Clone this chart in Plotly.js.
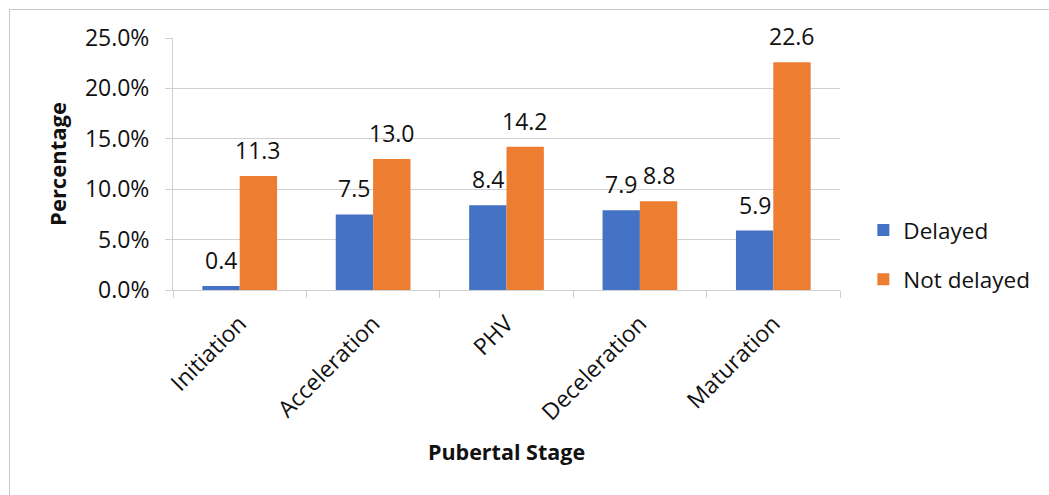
<!DOCTYPE html>
<html><head><meta charset="utf-8">
<script src="https://cdn.plot.ly/plotly-3.0.1.min.js"></script>
<style>
html,body{margin:0;padding:0;background:#fff;}
#wrap{position:relative;width:1049px;height:495px;overflow:hidden;}
#chart{width:1049px;height:495px;}
#frame{position:absolute;left:9px;top:9px;width:1100px;height:600px;border-left:1px solid #c8c8c8;border-top:1px solid #c8c8c8;pointer-events:none;}
</style></head>
<body><div id="wrap"><div id="chart"></div><div id="frame"></div></div>
<script>
const categories = ["Initiation", "Acceleration", "PHV", "Deceleration", "Maturation"];
const delayed = [0.4, 7.5, 8.4, 7.9, 5.9];
const notDelayed = [11.3, 13.0, 14.2, 8.8, 22.6];
const seriesNames = ["Delayed", "Not delayed"];
const yTickVals = [0, 5, 10, 15, 20, 25];

const FONT = "Open Sans, sans-serif";
const TXT = "#111";
const margin = {l: 173, r: 209, t: 38, b: 205};
const bargap = 0.44;
const plotW = 1049 - margin.l - margin.r;
const halfBar = (plotW / categories.length) * (1 - bargap) / 4;

const traces = [
  {type: "bar", name: seriesNames[0], x: categories, y: delayed.map(v => v / 100),
   marker: {color: "#4472C4"}, legendgroup: "a", hoverinfo: "skip"},
  {type: "bar", name: seriesNames[1], x: categories, y: notDelayed.map(v => v / 100),
   marker: {color: "#ED7D31"}, legendgroup: "b", hoverinfo: "skip"}
];

const annotations = [];
[delayed, notDelayed].forEach((arr, si) => {
  arr.forEach((v, i) => {
    annotations.push({x: categories[i], y: v / 100, xref: "x", yref: "y",
      text: v.toFixed(1), showarrow: false, yanchor: "middle",
      xshift: (si === 0 ? -1 : 1) * halfBar, yshift: 26,
      font: {family: FONT, size: 23, color: TXT}});
  });
});

const layout = {
  width: 1049, height: 495, margin: margin,
  paper_bgcolor: "#fff", plot_bgcolor: "#fff",
  barmode: "group", bargap: bargap, bargroupgap: 0,
  showlegend: true,
  legend: {x: 1.035, xanchor: "left", y: 0.139, yanchor: "middle",
    font: {family: FONT, size: 22.5, color: TXT}, traceorder: "grouped", tracegroupgap: 17,
    bgcolor: "rgba(0,0,0,0)"},
  xaxis: {type: "category", showgrid: false, showline: true, linecolor: "#d0d0d0", linewidth: 1,
    ticks: "outside", tickson: "boundaries", ticklen: 7, tickcolor: "#d0d0d0",
    ticklabelstandoff: 10,
    tickangle: -45, tickfont: {family: FONT, size: 23, color: TXT},
    title: {text: "<b>Pubertal Stage</b>", font: {family: FONT, size: 21.5, color: TXT}, standoff: 19}},
  yaxis: {range: [0, 0.25], tickvals: yTickVals.map(v => v / 100), tickformat: ".1%",
    showgrid: true, gridcolor: "#d0d0d0", gridwidth: 1, zeroline: false,
    showline: true, linecolor: "#d0d0d0", ticks: "outside", ticklen: 7, tickcolor: "#d0d0d0",
    ticklabelstandoff: 11,
    tickfont: {family: FONT, size: 23, color: TXT},
    title: {text: "<b>Percentage</b>", font: {family: FONT, size: 22, color: TXT}, standoff: 12}},
  annotations: annotations
};

Plotly.newPlot("chart", traces, layout, {staticPlot: true, displayModeBar: false});
</script></body></html>
